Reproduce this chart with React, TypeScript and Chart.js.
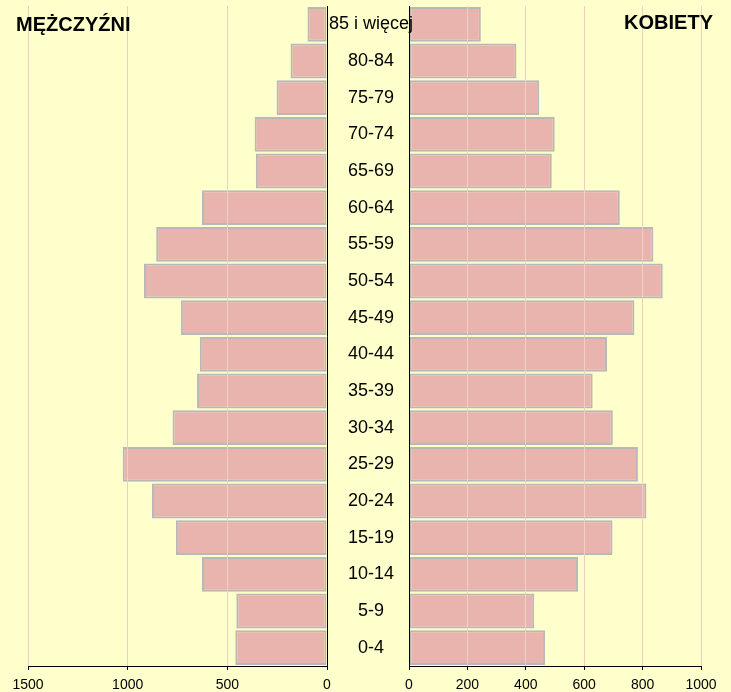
import React, { useEffect, useRef } from "react";
import { Chart, registerables } from "chart.js";

Chart.register(...registerables);

// Age groups, bottom (youngest) to top (oldest)
const AGE_GROUPS = [
  "0-4", "5-9", "10-14", "15-19", "20-24", "25-29", "30-34", "35-39", "40-44",
  "45-49", "50-54", "55-59", "60-64", "65-69", "70-74", "75-79", "80-84", "85 i więcej",
];
const MEN = [460, 455, 627, 758, 878, 1025, 775, 652, 638, 733, 918, 857, 627, 357, 363, 253, 183, 98];
const WOMEN = [466, 429, 579, 697, 813, 784, 698, 629, 678, 772, 869, 837, 722, 489, 499, 446, 368, 246];
const MEN_TICKS = [0, 500, 1000, 1500];
const WOMEN_TICKS = [0, 200, 400, 600, 800, 1000];
const TITLE_MEN = "MĘŻCZYŹNI";
const TITLE_WOMEN = "KOBIETY";

const BG = "#FFFFCC";
const BAR_FILL = "#E8B4AD";
const BAR_BORDER = "#B8B8B8";
const GRID = "#EFCFC0";
const FONT = "'Liberation Sans', Arial, sans-serif";

function dataset(values: number[]) {
  return {
    data: values,
    backgroundColor: BAR_FILL,
    borderColor: BAR_BORDER,
    borderWidth: 2,
    borderSkipped: false as const,
    barPercentage: 0.95,
    categoryPercentage: 1,
  };
}

function xScale(max: number, ticks: number[], reverse: boolean) {
  return {
    type: "linear" as const,
    min: 0,
    max,
    reverse,
    afterBuildTicks: (s: any) => {
      s.ticks = ticks.map((v) => ({ value: v }));
    },
    afterFit: (s: any) => {
      s.height = 26;
    },
    ticks: {
      font: { family: FONT, size: 14 },
      color: "#000",
      padding: 7,
      maxRotation: 0,
      autoSkip: false,
      callback: (v: any) => String(v),
    },
    grid: {
      color: GRID,
      lineWidth: 1,
      z: 1,
      drawTicks: true,
      tickLength: 4,
      tickColor: "#000",
    },
    border: { display: true, color: "#000", width: 1, z: 2 },
  };
}

export default function App() {
  const leftRef = useRef<HTMLCanvasElement | null>(null);
  const rightRef = useRef<HTMLCanvasElement | null>(null);

  useEffect(() => {
    const left = new Chart(leftRef.current as HTMLCanvasElement, {
      type: "bar",
      data: { labels: AGE_GROUPS, datasets: [dataset(MEN) as any] },
      options: {
        indexAxis: "y",
        animation: false,
        responsive: false,
        maintainAspectRatio: false,
        layout: { padding: { left: 28, right: 4, top: 6, bottom: 0 } },
        plugins: { legend: { display: false }, tooltip: { enabled: false }, title: { display: false } },
        scales: {
          x: xScale(1500, MEN_TICKS, true) as any,
          y: {
            type: "category",
            reverse: true,
            position: "right",
            ticks: { display: false },
            grid: { display: false, drawTicks: false },
            border: { display: true, color: "#000", width: 1, z: 2 },
            afterFit: (s: any) => {
              s.width = 0;
            },
          } as any,
        },
      },
    });

    const right = new Chart(rightRef.current as HTMLCanvasElement, {
      type: "bar",
      data: { labels: AGE_GROUPS, datasets: [dataset(WOMEN) as any] },
      options: {
        indexAxis: "y",
        animation: false,
        responsive: false,
        maintainAspectRatio: false,
        layout: { padding: { left: 0, right: 30, top: 6, bottom: 0 } },
        plugins: { legend: { display: false }, tooltip: { enabled: false }, title: { display: false } },
        scales: {
          x: xScale(1000, WOMEN_TICKS, false) as any,
          y: {
            type: "category",
            reverse: true,
            position: "left",
            ticks: {
              font: { family: FONT, size: 18 },
              color: "#000",
              crossAlign: "center",
              mirror: true,
              padding: -80,
              autoSkip: false,
              z: 3,
            },
            grid: { display: false, drawTicks: false },
            border: { display: true, color: "#000", width: 1, z: 2 },
            afterFit: (s: any) => {
              s.width = 82;
            },
          } as any,
        },
      },
    });

    return () => {
      left.destroy();
      right.destroy();
    };
  }, []);

  return (
    <div
      style={{
        position: "fixed",
        left: 0,
        top: 0,
        width: 731,
        height: 692,
        background: BG,
        overflow: "hidden",
      }}
    >
      <canvas
        ref={leftRef}
        width={331}
        height={692}
        style={{ position: "absolute", left: 0, top: 0, width: 331, height: 692 }}
      />
      <canvas
        ref={rightRef}
        width={404}
        height={692}
        style={{ position: "absolute", left: 327, top: 0, width: 404, height: 692 }}
      />
      <div
        style={{
          position: "absolute",
          left: 16,
          top: 14,
          font: `bold 20px ${FONT}`,
          lineHeight: "20px",
          color: "#000",
          whiteSpace: "nowrap",
        }}
      >
        {TITLE_MEN}
      </div>
      <div
        style={{
          position: "absolute",
          right: 18,
          top: 12,
          font: `bold 20px ${FONT}`,
          lineHeight: "20px",
          color: "#000",
          whiteSpace: "nowrap",
        }}
      >
        {TITLE_WOMEN}
      </div>
    </div>
  );
}
